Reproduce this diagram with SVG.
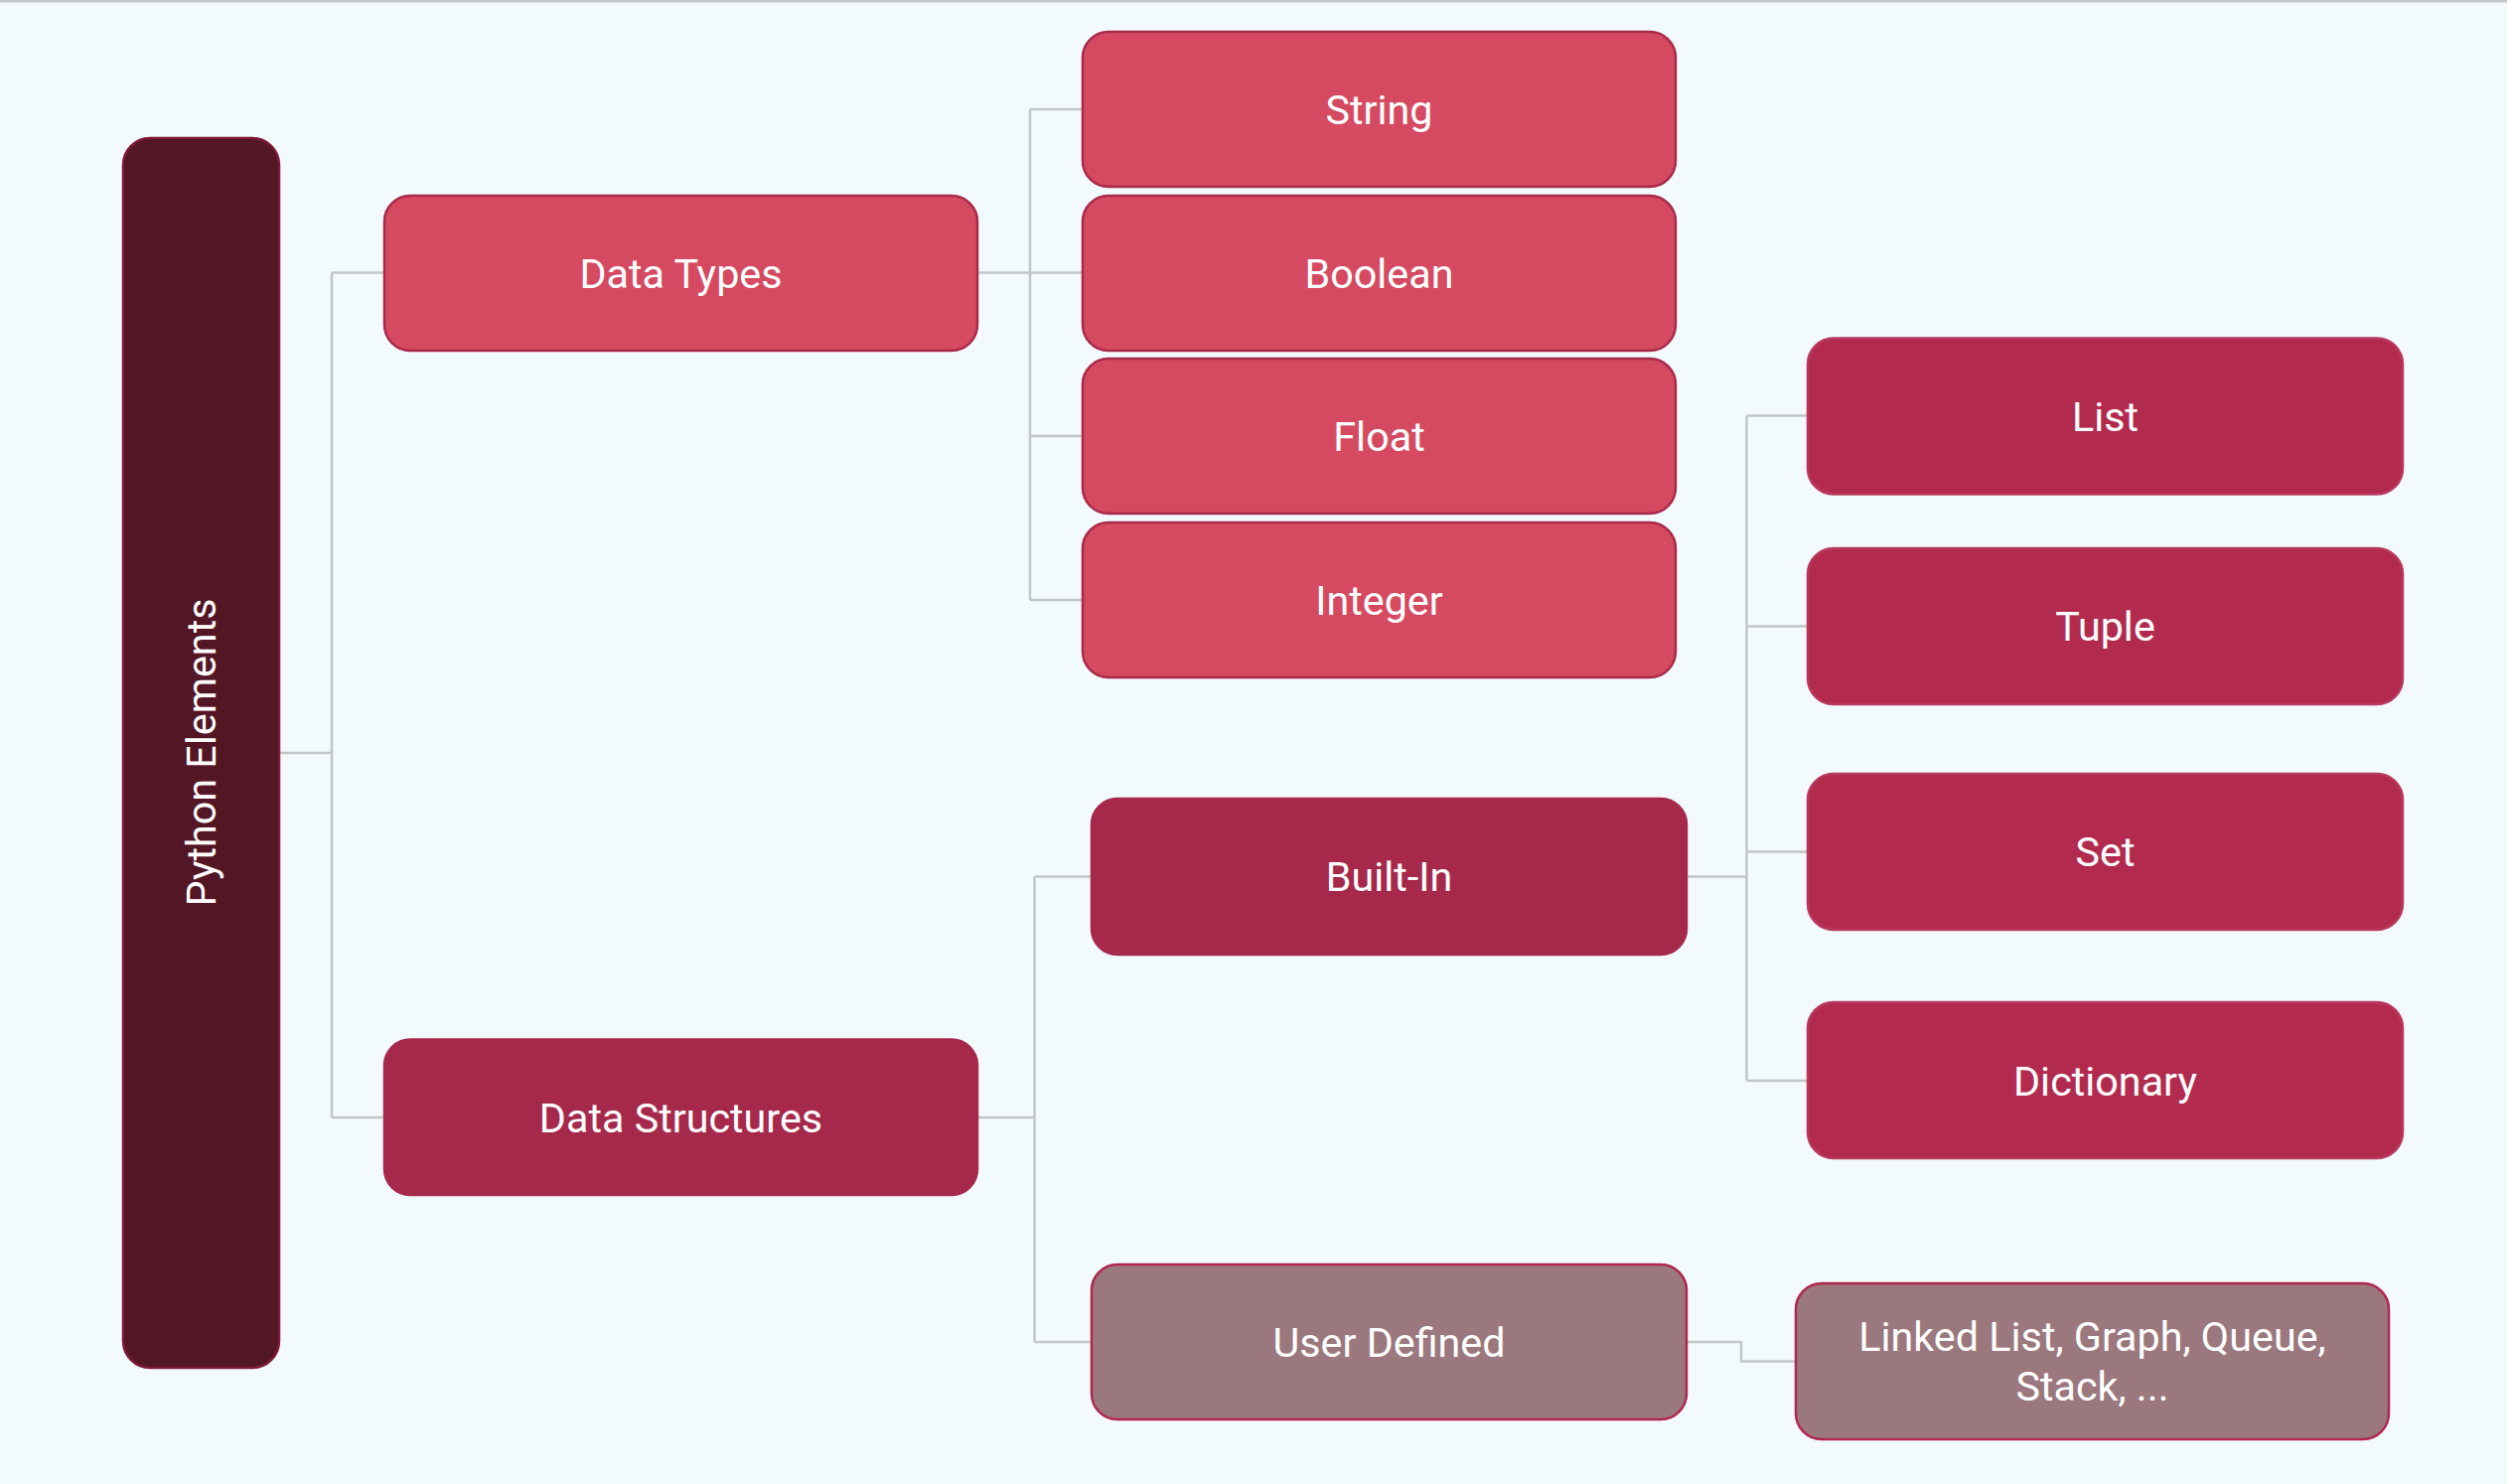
<svg xmlns="http://www.w3.org/2000/svg" width="2524" height="1494" viewBox="0 0 2524 1494">
<style>
.bg{fill:#f2fafd}
.n{stroke-width:2.5}
.root{fill:#521625;stroke:#7e1a36}
.dt{fill:#d64a61;stroke:#a82a4a}
.ds{fill:#a6294b;stroke:#a6294b}
.bi{fill:#b22b4f;stroke:#b8395b}
.ud{fill:#9b787d;stroke:#b0264e}
.t{font-family:Roboto,"Liberation Sans",sans-serif;font-size:41.3px;fill:#ffffff;text-anchor:middle}
.c{fill:none;stroke:#c3c6c6;stroke-width:2.5}
</style>
<rect class="bg" x="0" y="0" width="2524" height="1494"/>
<rect x="0" y="0" width="2524" height="2.5" fill="#c4c8c8"/>
<g id="connectors">
<path class="c" d="M281,758 H334 M334,274.5 V1125 M334,274.5 H387 M334,1125 H387"/>
<path class="c" d="M984,274.5 H1037 M1037,110 V604 M1037,110 H1090 M1037,274.5 H1090 M1037,439 H1090 M1037,604 H1090"/>
<path class="c" d="M984,1125 H1041.5 M1041.5,882.5 V1351 M1041.5,882.5 H1099 M1041.5,1351 H1099"/>
<path class="c" d="M1698,882.5 H1758.5 M1758.5,418.5 V1088 M1758.5,418.5 H1820 M1758.5,630.5 H1820 M1758.5,857.5 H1820 M1758.5,1088 H1820"/>
<path class="c" d="M1698,1351 H1753 V1370.5 H1808"/>
</g>
<g id="python-elements"><rect class="n root" x="124" y="139" width="157" height="1238" rx="27"/><text class="t" transform="translate(202.5,757.5) rotate(-90)" x="0" y="14.5">Python Elements</text></g>
<g id="data-types"><rect class="n dt" x="387" y="197" width="597" height="156" rx="26"/><text class="t" x="685.5" y="289.5">Data Types</text></g>
<g id="data-structures"><rect class="n ds" x="387" y="1046.5" width="597" height="156.5" rx="26"/><text class="t" x="685.5" y="1139.5">Data Structures</text></g>
<g id="string"><rect class="n dt" x="1090" y="32" width="597" height="156" rx="26"/><text class="t" x="1388.5" y="124.5">String</text></g>
<g id="boolean"><rect class="n dt" x="1090" y="197" width="597" height="156" rx="26"/><text class="t" x="1388.5" y="289.5">Boolean</text></g>
<g id="float"><rect class="n dt" x="1090" y="361" width="597" height="156" rx="26"/><text class="t" x="1388.5" y="453.5">Float</text></g>
<g id="integer"><rect class="n dt" x="1090" y="526" width="597" height="156" rx="26"/><text class="t" x="1388.5" y="618.5">Integer</text></g>
<g id="built-in"><rect class="n ds" x="1099" y="804" width="599" height="157" rx="26"/><text class="t" x="1398.5" y="897">Built-In</text></g>
<g id="user-defined"><rect class="n ud" x="1099" y="1273" width="599" height="156" rx="26"/><text class="t" x="1398.5" y="1365.5">User Defined</text></g>
<g id="list"><rect class="n bi" x="1820" y="340.5" width="599" height="157" rx="26"/><text class="t" x="2119.5" y="433.5">List</text></g>
<g id="tuple"><rect class="n bi" x="1820" y="552" width="599" height="157" rx="26"/><text class="t" x="2119.5" y="645">Tuple</text></g>
<g id="set"><rect class="n bi" x="1820" y="779" width="599" height="157" rx="26"/><text class="t" x="2119.5" y="872">Set</text></g>
<g id="dictionary"><rect class="n bi" x="1820" y="1009" width="599" height="157" rx="26"/><text class="t" x="2119.5" y="1102.5">Dictionary</text></g>
<g id="linked-list"><rect class="n ud" x="1808" y="1292" width="597" height="157" rx="26"/><text class="t" x="2106.5" y="1360">Linked List, Graph, Queue,</text><text class="t" x="2106.5" y="1410">Stack, ...</text></g>
</svg>
